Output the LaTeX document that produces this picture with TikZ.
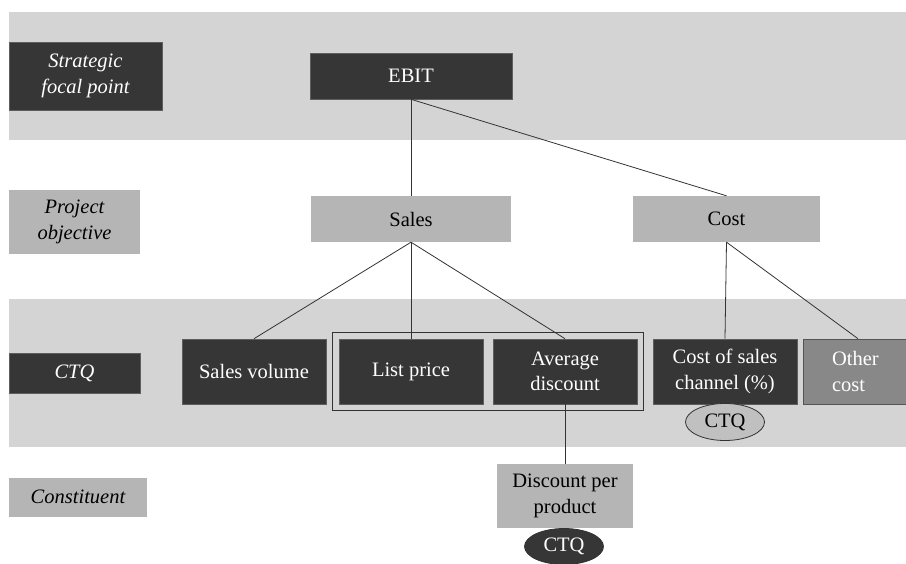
\documentclass[tikz,border=0pt]{standalone}
\usepackage{fontspec}
\setmainfont{Liberation Serif}
\usepackage{xcolor}
\usetikzlibrary{positioning,fit,shapes.geometric}
\definecolor{bandgray}{HTML}{D4D4D4}
\definecolor{darkbox}{HTML}{363636}
\definecolor{midbox}{HTML}{B5B5B5}
\definecolor{othbox}{HTML}{888888}
\definecolor{ink}{HTML}{333333}
\newcommand{\figfont}{\fontsize{20.5}{25.5}\selectfont}
\tikzset{
  band/.style={fill=bandgray, draw=none},
  darknode/.style={rectangle, fill=darkbox, draw=darkbox!80!white, line width=0.6pt,
                   text=white, align=center, inner sep=2pt},
  lightnode/.style={rectangle, fill=midbox, draw=none, text=black, align=center, inner sep=2pt},
  rowlabel/.style={font=\figfont\itshape},
  link/.style={draw=ink, line width=0.8pt},
  ctqtag/.style={ellipse, draw=ink, line width=0.8pt, inner sep=0pt,
                 minimum width=79pt, minimum height=37pt},
}
\begin{document}
\begin{tikzpicture}[x=1pt, y=-1pt, font=\figfont]
\useasboundingbox (0,0) rectangle (906,564);

% ---- background bands ----
\fill[band] (9,12) rectangle (906,140.5);
\fill[band] (9,299) rectangle (906,447);

% ---- row labels ----
\node[darknode, rowlabel, minimum width=153pt, minimum height=68pt] (focal) at (85.5,76)
  {Strategic\\focal point};
\node[lightnode, rowlabel, minimum width=131pt, minimum height=64pt] (projobj) at (74.5,222)
  {Project\\objective};
\node[darknode, rowlabel, minimum width=131pt, minimum height=40pt] (ctqlab) at (74.5,373) {CTQ};
\node[lightnode, rowlabel, minimum width=138pt, minimum height=39pt] (constit) at (78,497)
  {Constituent};

% ---- tree ----
\node[darknode, minimum width=202pt, minimum height=46pt] (ebit) at (411,76) {EBIT};
\node[lightnode, minimum width=200pt, minimum height=46pt] (sales) at (411,219) {Sales};
\node[lightnode, minimum width=187pt, minimum height=46pt] (cost) at (726.5,219) {Cost};

\node[darknode, minimum width=144pt, minimum height=65pt] (volume) at (254,371.5) {Sales volume};
\node[darknode, minimum width=144pt, minimum height=65pt] (list) at (411,371.5) {List price};
\node[darknode, minimum width=144pt, minimum height=65pt] (avgdisc) at (565,371.5)
  {Average\\discount};
\node[darknode, minimum width=144pt, minimum height=65pt] (costsales) at (725,371.5)
  {Cost of sales\\channel (\%)};
\node[darknode, fill=othbox, draw=darkbox!85!white, minimum width=110pt, minimum height=65pt,
      align=left, text width=52pt] (other) at (858,371.5) {Other\\cost};
\node[draw=ink, line width=0.8pt, inner sep=6pt, fit=(list)(avgdisc)] (pricegrp) {};

\node[lightnode, minimum width=136pt, minimum height=64pt] (discount) at (565,496)
  {Discount per\\product};

\draw[link] (ebit.south) -- (sales.north);
\draw[link] (ebit.south) -- (cost.north);
\draw[link] (sales.south) -- (volume.north);
\draw[link] (sales.south) -- (list.north);
\draw[link] (sales.south) -- (avgdisc.north);
\draw[link] (cost.south) -- (costsales.north);
\draw[link] (cost.south) -- (other.north);
\draw[link] (avgdisc.south) -- (discount.north);

% ---- CTQ tags ----
\node[ctqtag, fill=midbox!85!white, text=black] (ctqa) at (725,422) {CTQ};
\node[ctqtag, fill=darkbox, text=white, minimum height=36pt] (ctqb) at (564,546.5) {CTQ};

\end{tikzpicture}
\end{document}
